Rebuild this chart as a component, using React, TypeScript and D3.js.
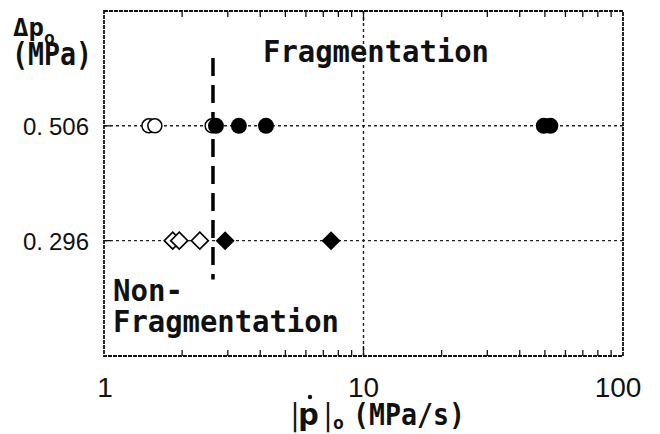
import * as d3 from "d3";

// pressure drop levels (MPa) and the values read for each run
const pressureLevels = [0.506, 0.296];
const yTickLabels = ["0.506", "0.296"];
const circleOpen = [1.49, 1.57, 2.61];
const circleFilled = [2.7, 3.31, 4.21, 49.5, 52.5];
const diamondOpen = [1.84, 1.95, 2.34];
const diamondFilled = [2.93, 7.5];
const thresholdX = 2.63;
const thresholdSpan = [0.225, 0.63];
const xTickLabels = [1, 10, 100];
const minorTicks = [2, 3, 4, 5, 6, 7, 8, 9, 20, 30, 40, 50, 60, 70, 80, 90];

const W = 660;
const H = 434;
const left = 104, right = 623, top = 11, bottom = 356;

const mono = "'DejaVu Sans Mono', monospace";
const sans = "'Liberation Sans', Arial, sans-serif";

export default function App() {
  const x = d3.scaleLog().domain([1, 100]).range([left, right]);
  const y = d3.scaleLinear().domain([0.085, 0.716]).range([bottom, top]);

  const diamond = (cx: number, cy: number, r: number) =>
    `M${cx},${cy - r}L${cx + r},${cy}L${cx},${cy + r}L${cx - r},${cy}Z`;

  return (
    <svg width={W} height={H} style={{ position: "absolute", left: 0, top: 0, background: "#fff" }}>
      {/* grid */}
      {pressureLevels.map((p) => (
        <line key={"h" + p} x1={left} x2={right} y1={y(p)} y2={y(p)}
          stroke="#222" strokeWidth={1.4} strokeDasharray="3,3" />
      ))}
      <line x1={x(10)} x2={x(10)} y1={top} y2={bottom} stroke="#222" strokeWidth={1.4} strokeDasharray="3,3" />

      {/* ticks */}
      {minorTicks.map((t) => (
        <g key={"t" + t}>
          <line x1={x(t)} x2={x(t)} y1={bottom} y2={bottom - 6} stroke="#111" strokeWidth={1.3} />
          <line x1={x(t)} x2={x(t)} y1={top} y2={top + 6} stroke="#111" strokeWidth={1.3} />
        </g>
      ))}
      <line x1={x(10)} x2={x(10)} y1={bottom} y2={bottom - 10} stroke="#111" strokeWidth={1.3} />
      <line x1={x(10)} x2={x(10)} y1={top} y2={top + 10} stroke="#111" strokeWidth={1.3} />
      {pressureLevels.map((p) => (
        <line key={"yt" + p} x1={left} x2={left + 7} y1={y(p)} y2={y(p)} stroke="#111" strokeWidth={1.3} />
      ))}

      {/* frame */}
      <rect x={left} y={top} width={right - left} height={bottom - top}
        fill="none" stroke="#111" strokeWidth={1.8} strokeDasharray="4,1" />

      {/* threshold */}
      <line x1={x(thresholdX)} x2={x(thresholdX)} y1={y(thresholdSpan[1])} y2={y(thresholdSpan[0])}
        stroke="#000" strokeWidth={3.5} strokeDasharray="18,9" />

      {/* markers */}
      {circleOpen.map((v, i) => (
        <circle key={"co" + i} cx={x(v)} cy={y(pressureLevels[0])} r={7}
          fill="#fff" stroke="#000" strokeWidth={1.5} />
      ))}
      {circleFilled.map((v, i) => (
        <circle key={"cf" + i} cx={x(v)} cy={y(pressureLevels[0])} r={8} fill="#000" />
      ))}
      {diamondOpen.map((v, i) => (
        <path key={"do" + i} d={diamond(x(v), y(pressureLevels[1]), 8.5)}
          fill="#fff" stroke="#000" strokeWidth={1.6} />
      ))}
      {diamondFilled.map((v, i) => (
        <path key={"df" + i} d={diamond(x(v), y(pressureLevels[1]), 9.5)} fill="#000" />
      ))}

      {/* y tick labels */}
      {yTickLabels.map((s, i) => (
        <text key={"yl" + s} x={89} y={y(pressureLevels[i]) + 9} textAnchor="end"
          fontFamily={sans} fontSize={24} fill="#111">
          {s.slice(0, 2)}<tspan dx={6}>{s.slice(2)}</tspan>
        </text>
      ))}

      {/* x tick labels */}
      {xTickLabels.map((t) => (
        <text key={"xl" + t} x={x(t) + (t === 100 ? -5 : t === 1 ? 1 : 0)} y={397} textAnchor="middle"
          fontFamily={sans} fontSize={28} fill="#111">{t}</text>
      ))}

      {/* axis titles */}
      <text x={13} y={36} fontFamily={mono} fontWeight="bold" fontSize={24} fill="#111"
        textLength={31} lengthAdjust="spacingAndGlyphs">Δp</text>
      <text x={44} y={44} fontFamily={mono} fontWeight="bold" fontSize={18} fill="#111">o</text>
      <text x={12} y={65} fontFamily={mono} fontWeight="bold" fontSize={32} fill="#111"
        textLength={80} lengthAdjust="spacingAndGlyphs">(MPa)</text>

      <text x={289} y={425} fontFamily={mono} fontWeight="bold" fontSize={30} fill="#111"
        textLength={12} lengthAdjust="spacingAndGlyphs">|</text>
      <text x={298} y={425} fontFamily={mono} fontWeight="bold" fontSize={30} fill="#111"
        textLength={21} lengthAdjust="spacingAndGlyphs">p</text>
      <circle cx={310} cy={397} r={2.2} fill="#111" />
      <text x={322} y={425} fontFamily={mono} fontWeight="bold" fontSize={30} fill="#111"
        textLength={12} lengthAdjust="spacingAndGlyphs">|</text>
      <text x={333} y={429} fontFamily={mono} fontWeight="bold" fontSize={18} fill="#111">o</text>
      <text x={353} y={425} fontFamily={mono} fontWeight="bold" fontSize={30} fill="#111"
        textLength={112} lengthAdjust="spacingAndGlyphs">(MPa/s)</text>

      {/* region labels */}
      <text x={263} y={62} fontFamily={mono} fontWeight="bold" fontSize={30} fill="#111"
        textLength={226} lengthAdjust="spacingAndGlyphs">Fragmentation</text>
      <text x={113} y={301} fontFamily={mono} fontWeight="bold" fontSize={30} fill="#111"
        textLength={70} lengthAdjust="spacingAndGlyphs">Non-</text>
      <text x={113} y={332} fontFamily={mono} fontWeight="bold" fontSize={30} fill="#111"
        textLength={226} lengthAdjust="spacingAndGlyphs">Fragmentation</text>
    </svg>
  );
}
